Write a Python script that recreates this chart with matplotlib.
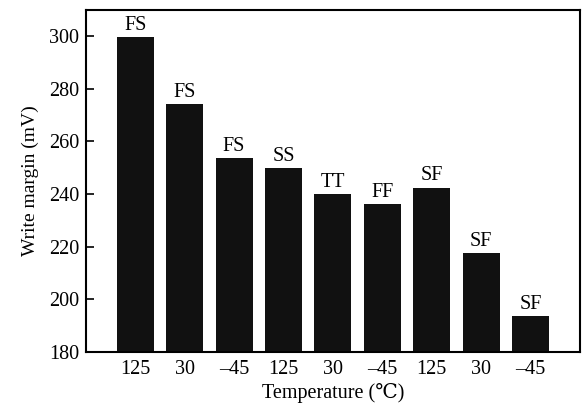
import numpy as np
import matplotlib.pyplot as plt

plt.rcParams['font.family'] = ['Liberation Serif', 'DejaVu Serif']

temps = ['125', '30', '\u201345', '125', '30', '\u201345', '125', '30', '\u201345']
corners = ['FS', 'FS', 'FS', 'SS', 'TT', 'FF', 'SF', 'SF', 'SF']
margin = [299.6, 274.3, 253.8, 250.0, 240.0, 236.3, 242.5, 217.5, 193.8]

x = np.arange(1, len(margin) + 1)

fig = plt.figure(figsize=(5.84, 4.15), dpi=100)
ax = fig.add_axes([0.147, 0.152, 0.846, 0.824])

ax.bar(x, np.array(margin) - 180, bottom=180, width=0.75, color='#111111')
for xi, m, c in zip(x, margin, corners):
    ax.text(xi, m + 0.8, c, ha='center', va='bottom', fontsize=14.5)

ax.set_xlim(0, 10)
ax.set_ylim(180, 310)
ax.set_yticks(np.arange(180, 301, 20))
ax.set_xticks(x)
ax.set_xticklabels(temps)
ax.tick_params(axis='y', direction='in', length=6, width=1.2, labelsize=14.5, pad=5)
ax.tick_params(axis='x', length=0, labelsize=14.5, pad=6)
for s in ax.spines.values():
    s.set_linewidth(1.5)

ax.set_xlabel('Temperature (\u2103)', fontsize=14.5, labelpad=3)
ax.set_ylabel('Write margin (mV)', fontsize=14, labelpad=7)

plt.savefig('out.png', dpi=100)
